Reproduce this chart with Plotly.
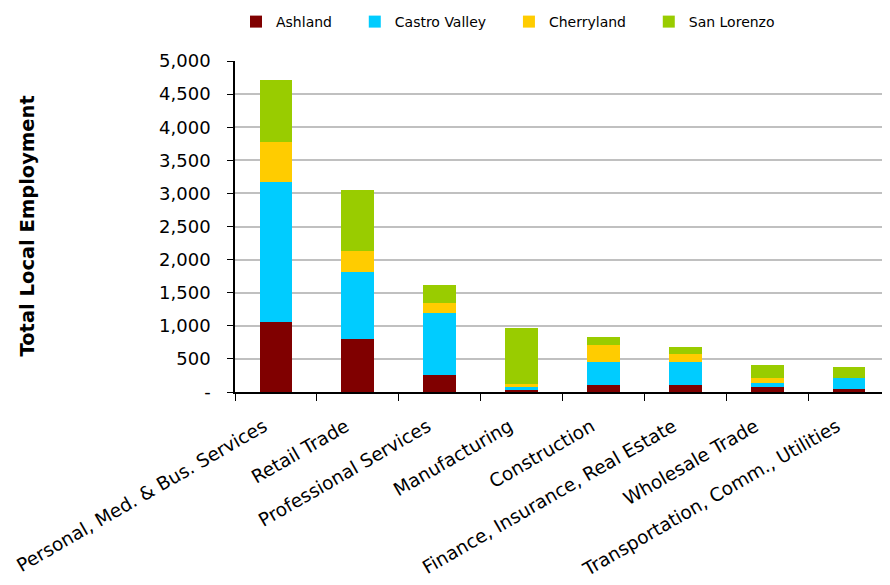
import plotly.graph_objects as go

categories = ["Personal, Med. & Bus. Services", "Retail Trade", "Professional Services",
              "Manufacturing", "Construction", "Finance, Insurance, Real Estate",
              "Wholesale Trade", "Transportation, Comm., Utilities"]
ashland = [1056, 800, 257, 45, 105, 105, 75, 45]
castro_valley = [2113, 1011, 935, 30, 345, 345, 60, 165]
cherryland = [604, 317, 151, 51, 255, 120, 75, 0]
san_lorenzo = [935, 920, 272, 840, 120, 105, 195, 165]

series = [("Ashland", ashland, "#800000"),
          ("Castro Valley", castro_valley, "#00CCFF"),
          ("Cherryland", cherryland, "#FFCC00"),
          ("San Lorenzo", san_lorenzo, "#99CC00")]

tick_vals = [0, 500, 1000, 1500, 2000, 2500, 3000, 3500, 4000, 4500, 5000]
tick_text = ["-", "500", "1,000", "1,500", "2,000", "2,500", "3,000", "3,500", "4,000", "4,500", "5,000"]

PAD = "\u00a0" * 4

fig = go.Figure()
for name, vals, color in series:
    fig.add_trace(go.Bar(name=name + PAD, x=categories, y=vals,
                         marker=dict(color=color, line=dict(width=0))))

font = "DejaVu Sans"
W, H = 882, 577
fig.update_layout(
    barmode="stack", bargap=0.6,
    width=W, height=H,
    margin=dict(l=227, r=0, t=53, b=193, pad=0),
    plot_bgcolor="white", paper_bgcolor="white",
    font=dict(family=font, size=16, color="black"),
    legend=dict(orientation="h", x=0.2585, xanchor="left", xref="container",
                y=0.948, yanchor="bottom", yref="container",
                font=dict(family=font, size=14), traceorder="normal",
                itemwidth=30),
    showlegend=True,
)
fig.update_xaxes(tickangle=-30, showline=True, linecolor="black", linewidth=1.5,
                 ticks="outside", tickson="boundaries", ticklen=7, tickcolor="black",
                 tickfont=dict(family=font, size=18.5), automargin=False,
                 ticklabelstandoff=15, ticklabelshift=-12)
fig.update_yaxes(range=[0, 5000], tickvals=tick_vals, ticktext=tick_text,
                 showline=True, linecolor="black", linewidth=1.5,
                 ticks="outside", ticklen=6, tickcolor="black",
                 showgrid=True, gridcolor="#C0C0C0", gridwidth=1.5,
                 tickfont=dict(family=font, size=18), automargin=False,
                 ticklabelstandoff=13)
fig.add_annotation(text="<b>Total Local Employment</b>", xref="paper", yref="paper",
                   x=(19 - 227) / 655, y=0.5, xanchor="center", yanchor="middle",
                   textangle=-90, showarrow=False,
                   font=dict(family="DejaVu Sans", size=19.5, color="black"))
fig.write_html("out.html")
